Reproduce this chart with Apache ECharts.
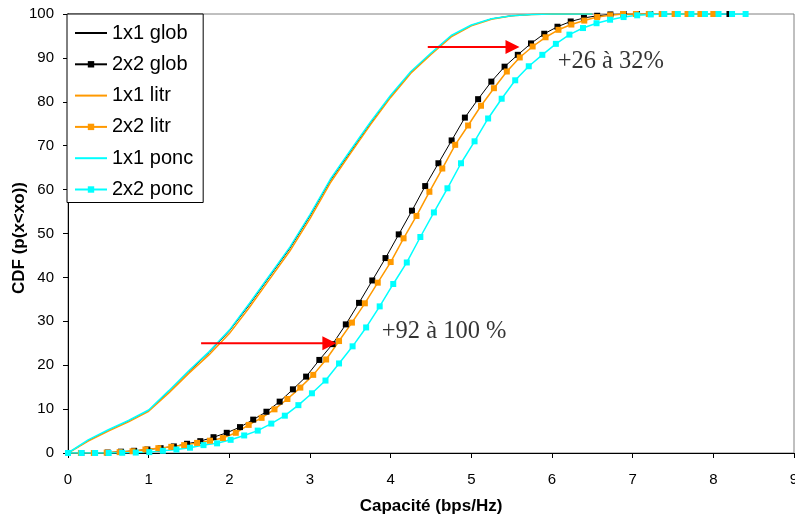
<!DOCTYPE html>
<html><head><meta charset="utf-8">
<script src="https://cdn.jsdelivr.net/npm/echarts@6/dist/echarts.min.js"></script>
<style>html,body{margin:0;padding:0;background:#fff}#c{width:795px;height:517px}</style>
</head><body><div id="c"></div>
<script>
// ---- data ----
const seriesNames = ['1x1 glob','2x2 glob','1x1 litr','2x2 litr','1x1 ponc','2x2 ponc'];

// 1x1 curves (no markers)
const x1x1 = [0,0.25,0.5,0.75,1,1.25,1.5,1.75,2,2.25,2.5,2.75,3,3.25,3.5,3.75,4,4.25,4.5,4.75,5,5.25,5.5,5.75,6,6.25,6.5];
const glob1x1 = [0,2.8,5.2,7.3,9.7,14.0,18.6,22.9,27.8,33.8,40.2,46.6,54.0,62.0,68.6,75.1,81.3,86.7,91.0,95.0,97.4,98.9,99.6,99.9,100,100,100];
const litr1x1 = [0,2.7,5.0,7.1,9.5,13.7,18.2,22.4,27.2,33.2,39.6,46.0,53.4,61.5,68.2,74.8,81.0,86.5,90.8,94.8,97.3,98.8,99.6,99.9,100,100,100];
const ponc1x1 = [0,3.0,5.3,7.4,9.8,14.2,18.8,23.1,28.0,34.1,40.5,46.9,54.3,62.3,68.9,75.4,81.5,86.9,91.1,95.1,97.5,98.9,99.6,99.9,100,100,100];

// 2x2 glob
const globX = [0,0.164,0.328,0.492,0.656,0.82,0.984,1.148,1.312,1.476,1.64,1.804,1.968,2.132,2.296,2.46,2.624,2.788,2.952,3.116,3.28,3.444,3.608,3.772,3.936,4.1,4.264,4.428,4.592,4.756,4.92,5.084,5.248,5.412,5.576,5.74,5.904,6.068,6.232,6.396,6.56,6.724,6.888,7.052,7.216,7.38,7.544,7.708,7.872,8.036,8.2];
const globY = [0,0,0,0.1,0.3,0.5,0.8,1.1,1.5,2.1,2.7,3.6,4.6,5.9,7.6,9.4,11.7,14.5,17.4,21.2,24.8,29.3,34.2,39.3,44.4,49.8,55.2,60.8,66.0,71.2,76.4,80.6,84.6,88.0,90.7,93.3,95.5,97.1,98.3,99.1,99.6,99.9,100,100,100,100,100,100,100,100,100];

// 2x2 litr
const litrX = [0,0.16,0.32,0.48,0.64,0.8,0.96,1.12,1.28,1.44,1.6,1.76,1.92,2.08,2.24,2.4,2.56,2.72,2.88,3.04,3.2,3.36,3.52,3.68,3.84,4.0,4.16,4.32,4.48,4.64,4.8,4.96,5.12,5.28,5.44,5.6,5.76,5.92,6.08,6.24,6.4,6.56,6.72,6.88,7.04,7.2,7.36,7.52,7.68,7.84,8.0];
const litrY = [0,0,0,0.07,0.2,0.4,0.8,1.1,1.4,1.8,2.3,2.8,3.4,4.6,6.4,8.0,9.95,12.3,14.9,17.8,21.3,25.5,29.7,34.1,38.8,43.5,48.9,54.0,59.5,64.8,70.2,74.6,79.1,83.1,86.9,90.1,92.6,94.7,96.4,97.6,98.5,99.3,99.7,100,100,100,100,100,100,100,100];

// 2x2 ponc
const poncX = [0,0.168,0.336,0.504,0.672,0.84,1.008,1.176,1.344,1.512,1.68,1.848,2.016,2.184,2.352,2.52,2.688,2.856,3.024,3.192,3.36,3.528,3.696,3.864,4.032,4.2,4.368,4.536,4.704,4.872,5.04,5.208,5.376,5.544,5.712,5.88,6.048,6.216,6.384,6.552,6.72,6.888,7.056,7.224,7.392,7.56,7.728,7.896,8.064,8.232,8.4];
const poncY = [0,0,0,0,0.05,0.1,0.2,0.5,0.8,1.2,1.8,2.2,3.0,4.0,5.1,6.7,8.5,10.9,13.6,16.5,20.4,24.3,28.6,33.4,38.5,43.4,49.2,54.8,60.3,66.0,71.0,76.2,80.7,84.9,88.1,90.7,93.2,95.3,96.8,97.9,98.7,99.3,99.7,99.9,100,100,100,100,100,100,100];

// annotations: arrows [x0, y0, x1 (head centre), y1] and texts [x, y, text]
const arrows = [[1.65,25.0,3.24,25.0],[4.46,92.5,5.51,92.5]];
const notes = [[3.89,27.6,'+92 à 100 %'],[6.07,89.1,'+26 à 32%']];

const xTickMin = 0, xTickMax = 9, xTickStep = 1;
const yTickMin = 0, yTickMax = 100, yTickStep = 10;
const xTitle = 'Capacité (bps/Hz)';
const yTitle = 'CDF (p(x<xo))';

// ---- chart ----
const zip = (xs, ys) => xs.map((x, i) => [x, ys[i]]);
const BLACK = '#000000', ORANGE = '#FF9900', CYAN = '#00FFFF';
const font = 'Liberation Sans, Arial, sans-serif';
const HEAD = 14; // arrow head size in px

const chart = echarts.init(document.getElementById('c'), null, {renderer: 'canvas'});
const plain = (name, xs, ys, color, w) => ({
  name, type: 'line', data: zip(xs, ys), showSymbol: false, symbol: 'none',
  lineStyle: {color, width: w}, itemStyle: {color: 'rgba(0,0,0,0)', borderWidth: 0}, silent: true, z: 2
});
const marked = (name, xs, ys, color, w, s) => ({
  name, type: 'line', data: zip(xs, ys), symbol: 'rect', symbolSize: s, showAllSymbol: true,
  lineStyle: {color, width: w}, itemStyle: {color, borderWidth: 0}, silent: true, z: 3
});

const legendData = seriesNames.map(n => n.startsWith('1x1')
  ? {name: n, itemStyle: {opacity: 0}} : {name: n});

const arrowSeries = arrows.map((a, k) => ({
  name: 'arrow' + k, type: 'line', silent: true, z: 5,
  lineStyle: {color: '#FF0000', width: 2},
  itemStyle: {color: '#FF0000', borderWidth: 0},
  showAllSymbol: true,
  data: [
    {value: [a[0], a[1]], symbol: 'none'},
    {value: [a[2], a[3]], symbol: 'triangle', symbolSize: [HEAD, HEAD], symbolRotate: -90}
  ]
}));

chart.setOption({
  animation: false,
  backgroundColor: '#ffffff',
  grid: {left: 68, right: 1, top: 14, bottom: 64, outerBoundsMode: 'none', containLabel: false,
         show: true, borderColor: '#808080', borderWidth: 1, backgroundColor: 'transparent'},
  xAxis: {
    type: 'value', min: xTickMin, max: xTickMax, interval: xTickStep,
    name: xTitle, nameLocation: 'middle', nameGap: 45,
    nameTextStyle: {fontFamily: font, fontWeight: 'bold', fontSize: 17, color: '#000'},
    axisLine: {show: true, lineStyle: {color: '#000', width: 1}},
    axisTick: {show: true, inside: false, length: 5, lineStyle: {color: '#000'}},
    axisLabel: {fontFamily: font, fontSize: 15, color: '#000', margin: 19, showMaxLabel: true, hideOverlap: false},
    splitLine: {show: false}
  },
  yAxis: {
    type: 'value', min: yTickMin, max: yTickMax, interval: yTickStep,
    axisLine: {show: true, lineStyle: {color: '#000', width: 1}},
    axisTick: {show: true, inside: false, length: 5, lineStyle: {color: '#000'}},
    axisLabel: {fontFamily: font, fontSize: 15, color: '#000', margin: 14},
    splitLine: {show: false}
  },
  graphic: [{
    type: 'text', x: 19, y: 238, rotation: Math.PI / 2, silent: true,
    style: {text: yTitle, fontFamily: font, fontWeight: 'bold', fontSize: 17, fill: '#000',
            align: 'center', verticalAlign: 'middle'}
  }],
  legend: {
    data: legendData, orient: 'vertical', left: 67, top: 14,
    backgroundColor: '#ffffff', borderColor: '#000', borderWidth: 1,
    padding: [9, 10, 3, 7], itemGap: 11.3, itemWidth: 32, itemHeight: 8,
    textStyle: {fontFamily: font, fontSize: 20, color: '#000'}, selectedMode: false, z: 10
  },
  series: [
    plain(seriesNames[0], x1x1, glob1x1, BLACK, 1),
    marked(seriesNames[1], globX, globY, BLACK, 1, 6),
    plain(seriesNames[2], x1x1, litr1x1, ORANGE, 1.5),
    marked(seriesNames[3], litrX, litrY, ORANGE, 1.5, 6),
    plain(seriesNames[4], x1x1, ponc1x1, CYAN, 1.5),
    marked(seriesNames[5], poncX, poncY, CYAN, 1.5, 6),
    ...arrowSeries,
    {
      name: 'notes', type: 'scatter', symbolSize: 0, silent: true, z: 6,
      data: notes.map(n => ({value: [n[0], n[1]], label: {formatter: n[2]}})),
      label: {show: true, position: 'right', distance: 0, fontFamily: 'Liberation Serif, Times New Roman, serif', fontSize: 24.5, color: '#000'}
    }
  ]
});
</script>
</body></html>
